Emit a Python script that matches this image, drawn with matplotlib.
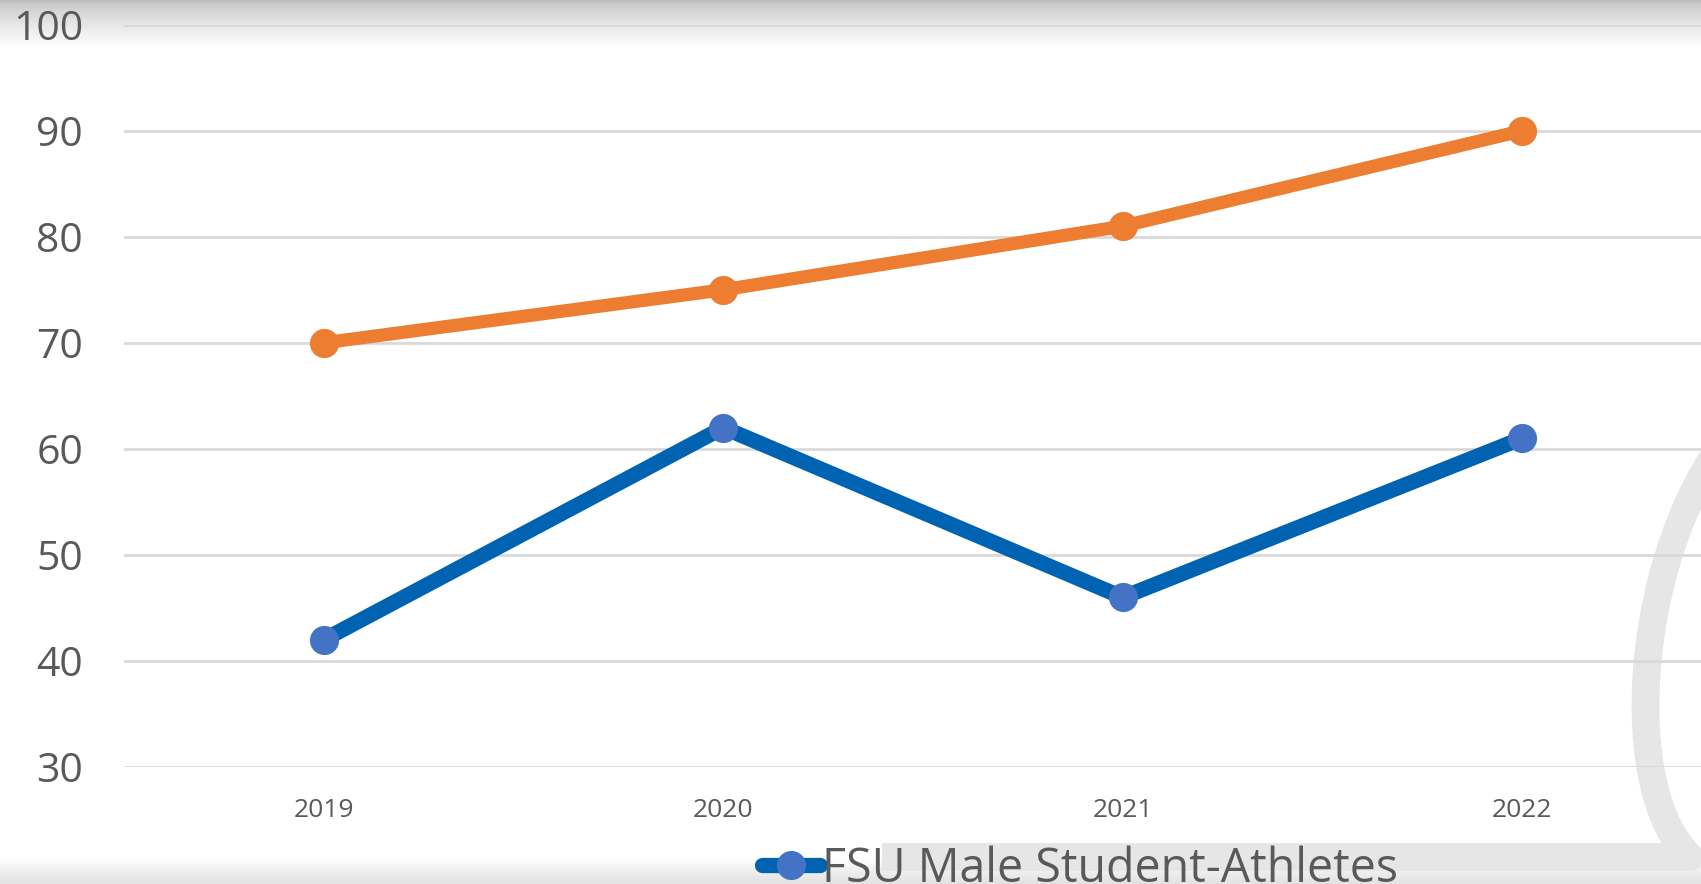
import numpy as np
import matplotlib
matplotlib.use("Agg")
import matplotlib.pyplot as plt
from matplotlib.path import Path
from matplotlib.patches import PathPatch
from matplotlib.lines import Line2D

# donnees du graphique
annees = ["2019", "2020", "2021", "2022"]
serie_orange = [70, 75, 81, 90]
serie_bleue = [42, 62, 46, 61]
nom_bleue = "FSU Male Student-Athletes"
y_ticks = [30, 40, 50, 60, 70, 80, 90, 100]

W, H = 1701, 884
plt.rcParams['font.family'] = ['Open Sans', 'DejaVu Sans']

fig = plt.figure(figsize=(W / 100, H / 100), dpi=100)

# fond avec degrade haut / bas
ax_bg = fig.add_axes([0, 0, 1, 1], zorder=-2)
ax_bg.set_xlim(0, W)
ax_bg.set_ylim(H, 0)
ax_bg.axis("off")
ys = np.arange(H)
col = np.ones(H)
haut = ys < 48
col[haut] = 0.74 + 0.26 * (ys[haut] / 48) ** 0.7
bas = ys > 858
col[bas] = 1 - 0.12 * ((ys[bas] - 858) / (H - 858)) ** 0.8
grad = np.tile(col[:, None], (1, 2))
ax_bg.imshow(grad, cmap="gray", vmin=0, vmax=1, extent=[0, W, H, 0], aspect="auto")

# filigrane gris a droite
verts = [(1718, 450), (1635, 570), (1620, 790), (1690, 857), (882, 857)]
codes = [Path.MOVETO, Path.CURVE4, Path.CURVE4, Path.CURVE4, Path.LINETO]
ax_bg.add_patch(PathPatch(Path(verts, codes), fill=False, edgecolor="#e6e6e6",
                          lw=20, capstyle="butt", joinstyle="round"))

# axe principal (depasse a droite de l'image)
left, right = 124 / W, 1722 / W
bottom, top = (H - 767) / H, (H - 24.7) / H
ax = fig.add_axes([left, bottom, right - left, top - bottom])
ax.patch.set_alpha(0)

x = np.arange(len(annees))
ax.plot(x, serie_orange, color="#ED7D31", lw=9.5, marker="o", ms=21,
        markerfacecolor="#ED7D31", markeredgewidth=0, solid_capstyle="round",
        clip_on=False, zorder=3)
ax.plot(x, serie_bleue, color="#0063B1", lw=11, marker="o", ms=21,
        markerfacecolor="#4472C4", markeredgewidth=0, solid_capstyle="round",
        clip_on=False, zorder=3)

ax.set_xlim(-0.5, 3.5)
ax.set_ylim(30, 100)
ax.set_yticks(y_ticks)
ax.set_xticks(x)
ax.set_xticklabels(annees)
ax.grid(axis="y", color="#d9d9d9", lw=2)
ax.set_axisbelow(True)
for s in ax.spines.values():
    s.set_visible(False)
ax.tick_params(axis="y", length=0, pad=29.5, labelsize=29.5, labelcolor="#595959")
ax.tick_params(axis="x", length=0, pad=22, labelsize=19, labelcolor="#595959")

# legende (seule l'entree bleue est visible)
poignee = Line2D([], [], color="#0063B1", lw=11, marker="o", ms=21,
                 markerfacecolor="#4472C4", markeredgewidth=0,
                 solid_capstyle="round")
leg = fig.legend(handles=[poignee], labels=[nom_bleue], loc="center left",
                 bbox_to_anchor=(762 / W, (H - 869) / H), frameon=False,
                 handlelength=1.25, handletextpad=0.05, borderpad=0,
                 borderaxespad=0, labelcolor="#595959",
                 prop={"family": ["Open Sans"], "size": 33.5})

fig.savefig("out.png", dpi=100)
